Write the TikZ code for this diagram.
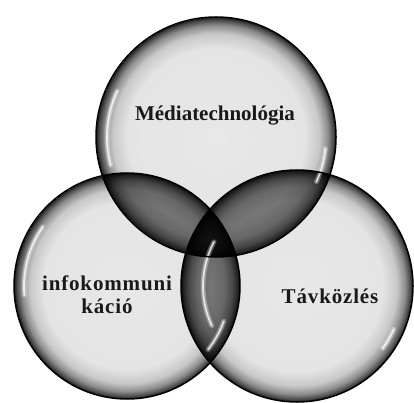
\documentclass[tikz,border=0pt]{standalone}
\usepackage{fontspec}
\setmainfont{Liberation Serif}
\definecolor{s0}{HTML}{E8E8E8}
\definecolor{s1}{HTML}{E4E4E4}
\definecolor{s2}{HTML}{C8C8C8}
\definecolor{s3}{HTML}{8C8C8C}
\definecolor{s4}{HTML}{4A4A4A}
\definecolor{s5}{HTML}{1A1A1A}
\pgfdeclareradialshading{ballshade}{\pgfpointorigin}{%
  color(0bp)=(s0); color(18.5bp)=(s1); color(21.5bp)=(s2);
  color(23.3bp)=(s3); color(24.4bp)=(s4); color(25bp)=(s5)}
\tikzset{
  ball/.style={circle, inner sep=0pt, shading=ballshade},
  rim/.style={draw=black, line width=1.5pt},
  lbl/.style={font=\fontsize{21}{23}\selectfont\bfseries, text=black!90, align=center, inner sep=0pt},
  hlwide/.style={white, line width=5pt, opacity=.3, line cap=round},
  hlthin/.style={white, line width=1.8pt, opacity=.75, line cap=round},
}
\begin{document}
\begin{tikzpicture}[x=1pt, y=-1pt]
\useasboundingbox (0,0) rectangle (414,403);
\fill[white] (0,0) rectangle (414,403);
% circles
\begin{scope}[blend mode=multiply]
\node[ball, minimum size=240pt] (med) at (216,137) {};
\node[ball, minimum size=226pt] (info) at (127,286) {};
\node[ball, minimum size=232pt] (tav) at (297,286) {};
\end{scope}
% overlaps
\begin{scope}
  \clip (med.center) circle (120pt);
  \fill[black, opacity=.42] (info.center) circle (113pt);
  \fill[black, opacity=.42] (tav.center) circle (116pt);
\end{scope}
\begin{scope}
  \clip (info.center) circle (113pt);
  \fill[black, opacity=.42] (tav.center) circle (116pt);
\end{scope}
\begin{scope}
  \clip (info.center) circle (113pt);
  \clip (tav.center) circle (116pt);
  \fill[black, opacity=.3] (med.center) circle (120pt);
\end{scope}
% highlights
\foreach \s in {hlwide,hlthin}{
  \draw[\s] (med.center) ++(155:109pt) arc[start angle=155, end angle=195, radius=109pt];
  \draw[\s] (med.center) ++(-6:110pt) arc[start angle=-6, end angle=-24, radius=110pt];
  \draw[\s] (info.center) ++(145:103pt) arc[start angle=145, end angle=185, radius=103pt];
  \draw[\s] (info.center) ++(-20:103pt) arc[start angle=-20, end angle=-38, radius=103pt];
  \draw[\s] (tav.center) ++(152:94pt) arc[start angle=152, end angle=205, radius=94pt];
  \draw[\s] (tav.center) ++(-24:106pt) arc[start angle=-24, end angle=-36, radius=106pt];
}
% outlines
\draw[rim] (med) circle (120pt);
\draw[rim] (info) circle (113pt);
\draw[rim] (tav) circle (116pt);
% labels
\node[lbl] (tmed) at (215,116) {Médiatechnológia};
\node[lbl] (tinfo) at (107,295) {\addfontfeatures{LetterSpace=4}infokommuni\\\addfontfeatures{LetterSpace=4}káció};
\node[lbl] (ttav) at (330,296) {\addfontfeatures{LetterSpace=4}Távközlés};
\end{tikzpicture}
\end{document}
